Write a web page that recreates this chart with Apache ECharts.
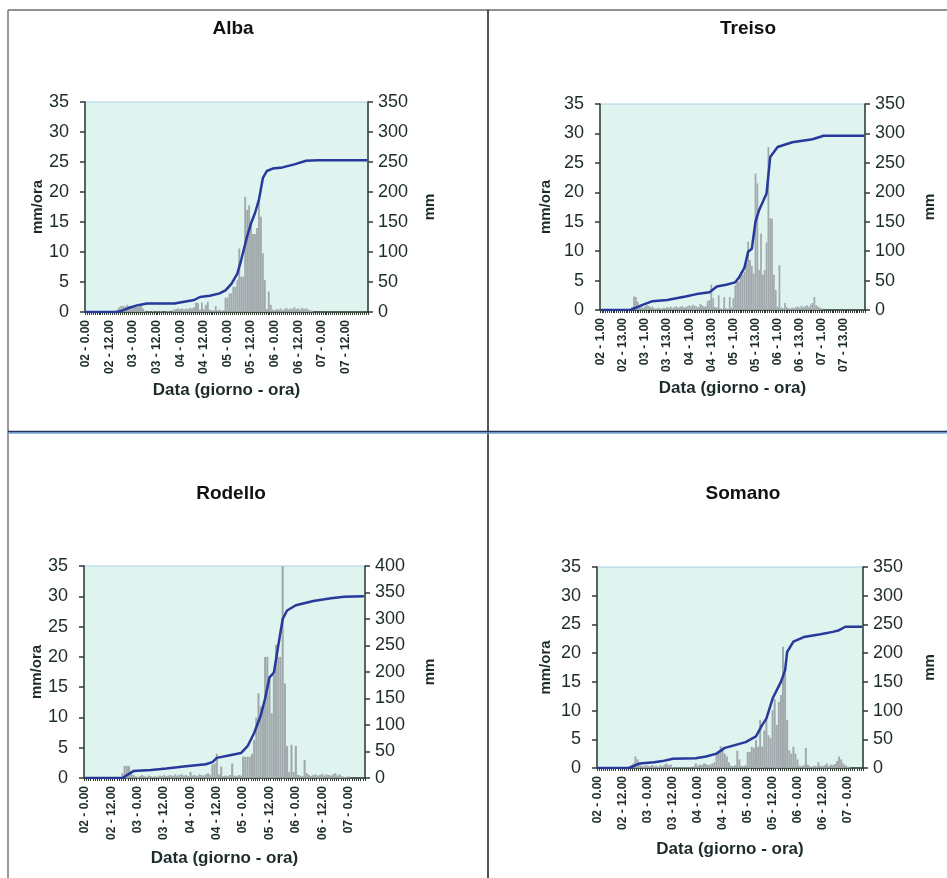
<!DOCTYPE html>
<html><head><meta charset="utf-8">
<script src="https://cdn.jsdelivr.net/npm/echarts@6/dist/echarts.min.js"></script>
<style>html,body{margin:0;padding:0;background:#fff}#c{width:947px;height:878px}</style>
</head><body><div id="c"></div><script>
// ---------- DATA ----------
const titles = ['Alba', 'Treiso', 'Rodello', 'Somano'];
const yLeftName = 'mm/ora';
const yRightName = 'mm';
const xName = 'Data (giorno - ora)';

// hourly rainfall intensity (mm/ora), one row per day
const albaRain = [
  0,0,0,0,0,0,0,0,0,0,0,0,0,0,0,0,0.5,0.8,1.0,1.0,0.9,1.2,1.0,0.8,
  1.0,1.1,0.9,0.9,1.0,0.6,0.2,0,0.1,0,0.2,0,0.1,0,0.2,0,0,0.1,0.2,0,0.3,0.4,0.5,0.6,
  0.5,0.6,0.4,0.6,0.5,0.7,0.6,0.8,1.6,1.5,0.4,1.6,0.5,1.2,1.7,0.4,0.3,0.2,1.0,0.3,0.4,0.2,0.3,2.4,
  2.4,3.1,3.1,4.2,4.2,5.3,10.6,5.9,5.9,19.2,17.0,17.8,14.8,13.0,13.0,14.0,18.4,15.9,9.8,5.3,0.5,3.4,1.2,0.4,
  0.3,0.5,0.4,0.6,0.3,0.5,0.7,0.4,0.6,0.5,0.8,0.5,0.6,0.4,0.7,0.5,0.6,0.4,0.3,0.2,0,0,0,0,
  0,0,0,0,0,0,0,0,0,0,0,0,0,0,0,0,0,0,0,0,0,0,0,0
];
const treisoRain = [
  0,0,0,0,0,0,0,0,0,0,0,0,0,0,0,0,0,0.5,2.3,2.2,1.4,0.6,0.5,0.4,
  0.6,0.8,0.7,0.5,0.6,0.3,0.2,0.4,0.3,0.2,0.4,0.3,0.5,0.4,0.6,0.3,0.5,0.6,0.4,0.5,0.7,0.4,0.5,0.6,
  0.8,0.6,0.9,0.7,0.6,0.5,1.0,0.8,0.6,0.6,1.5,1.7,4.3,2.0,0.5,0.4,2.5,0.3,0.2,2.2,0.3,0.2,2.2,0.4,
  2.0,4.2,4.8,4.8,6.5,6.0,6.5,8.0,11.6,8.5,7.5,6.2,23.2,21.5,6.8,13.0,6.0,6.8,11.5,27.7,15.6,15.5,6.0,3.4,
  0.6,7.6,0.4,0.3,1.2,0.5,0.3,0.2,0.4,0.3,0.5,0.6,0.4,0.7,0.5,0.6,0.8,0.5,0.9,1.2,2.2,0.8,0.6,0.4,
  0.3,0,0,0,0,0,0,0,0,0,0,0,0,0,0,0,0,0,0,0,0,0,0,0
];
const rodelloRain = [
  0,0,0,0,0,0,0,0,0,0,0,0,0,0,0,0,0,0.8,2.0,2.0,2.0,1.0,0.5,0.3,
  0.2,0.3,0.5,0.3,0.2,0.4,0.3,0.2,0.3,0.2,0.4,0.3,0.5,0.3,0.4,0.5,0.3,0.6,0.4,0.5,0.6,0.4,0.5,0.3,
  1.0,0.4,0.5,0.3,0.6,0.5,0.4,0.6,0.8,0.5,2.2,2.4,4.0,0.6,1.9,0.3,0.4,0.3,0.5,2.4,0.4,0.3,0.5,0.4,
  3.5,3.5,3.5,3.5,4.0,6.3,10.0,14.0,11.8,11.8,20.0,20.0,16.2,10.7,17.0,22.0,20.0,20.0,35,15.6,5.3,1.0,5.5,1.0,
  5.3,0.5,0.4,0.3,3.0,0.8,0.5,0.3,0.5,0.6,0.4,0.5,0.7,0.4,0.6,0.5,0.4,0.6,0.8,0.4,0.6,0.3,0.2,0.2,
  0.3,0,0,0,0,0,0,0
];
const somanoRain = [
  0,0,0,0,0,0,0,0,0,0,0,0,0,0,0,0.3,0.5,0.8,2.0,1.5,0.6,0.4,0.3,0.5,
  0.4,0.3,0.5,0.3,0.4,0.2,0.5,0.3,0.6,0.8,0.5,0.6,0.2,0.1,0.2,0.1,0.2,0.1,0.2,0.1,0.2,0.1,0.3,0.8,
  0.4,0.6,0.5,0.8,0.7,0.5,0.6,0.8,1.0,2.3,2.5,3.8,3.0,2.5,2.0,1.0,0.4,0.3,0.5,3.0,1.5,0.4,0.3,0.5,
  2.8,2.8,3.7,3.5,4.9,3.7,8.4,3.7,6.5,8.4,5.7,5.2,10.1,12.0,7.5,11.5,12.7,21.1,16.5,8.4,3.1,2.5,3.7,2.5,
  1.5,0.4,0.3,0.5,3.5,0.6,0.3,0.2,0.4,0.3,1.0,0.4,0.3,0.5,0.8,0.4,0.6,0.5,0.7,1.2,2.0,1.5,0.8,0.5,
  0.3,0.2,0,0,0,0,0,0
];

// cumulative rainfall (mm), points read as [hour index, mm]
const albaTotal = [[0,0],[16,0],[19,3],[22,7],[26,11],[29,13],[31,14],[45,14],[50,17],[55,20],[58,25],[63,27],[68,31],[71,36],[74,47],[77,64],[79,87],[82,126],[84,148],[86,165],[88,187],[90,223],[92,235],[95,239],[100,241],[106,246],[112,252],[118,253],[143,253]];
const treisoTotal = [[0,0],[16,0],[23,9],[28,15],[36,17],[41,20],[46,23],[52,27],[59,30],[63,40],[68,43],[73,47],[75,55],[78,72],[80,99],[82,104],[84,150],[86,170],[90,198],[92,260],[96,277],[104,285],[115,290],[121,296],[143,296]];
const rodelloTotal = [[0,0],[17,0],[22,13],[30,15],[37,18],[46,22],[55,26],[58,30],[60,38],[66,43],[71,47],[74,60],[77,85],[80,118],[82,150],[84,190],[86,199],[88,250],[90,300],[92,316],[96,326],[104,334],[112,339],[118,342],[127,343]];
const somanoTotal = [[0,0],[15,0],[20,8],[27,10],[31,12],[36,16],[47,17],[52,20],[57,25],[61,35],[65,39],[71,45],[76,55],[79,75],[81,86],[84,121],[88,150],[90,170],[91,202],[94,220],[99,228],[107,233],[113,237],[116,240],[119,246],[127,246]];

// first hour of each record and number of hourly steps
const startHours = [0, 1, 0, 0];
const hourCounts = [144, 144, 128, 128];

// tick labels shown on x axes
const albaTicks = ['02 - 0.00','02 - 12.00','03 - 0.00','03 - 12.00','04 - 0.00','04 - 12.00','05 - 0.00','05 - 12.00','06 - 0.00','06 - 12.00','07 - 0.00','07 - 12.00'];
const treisoTicks = ['02 - 1.00','02 - 13.00','03 - 1.00','03 - 13.00','04 - 1.00','04 - 13.00','05 - 1.00','05 - 13.00','06 - 1.00','06 - 13.00','07 - 1.00','07 - 13.00'];
const rodelloTicks = ['02 - 0.00','02 - 12.00','03 - 0.00','03 - 12.00','04 - 0.00','04 - 12.00','05 - 0.00','05 - 12.00','06 - 0.00','06 - 12.00','07 - 0.00'];
const somanoTicks = ['02 - 0.00','02 - 12.00','03 - 0.00','03 - 12.00','04 - 0.00','04 - 12.00','05 - 0.00','05 - 12.00','06 - 0.00','06 - 12.00','07 - 0.00'];

const leftMax = [35, 35, 35, 35];
const rightMax = [350, 350, 400, 350];

// ---------- LAYOUT ----------
const rains = [albaRain, treisoRain, rodelloRain, somanoRain];
const totals = [albaTotal, treisoTotal, rodelloTotal, somanoTotal];
const ticks = [albaTicks, treisoTicks, rodelloTicks, somanoTicks];

function hourLabels(startHour, count) {
  const out = [];
  for (let k = 0; k < count; k++) {
    const t = startHour + k;
    const d = 2 + Math.floor(t / 24);
    out.push(String(d).padStart(2, '0') + ' - ' + (t % 24) + '.00');
  }
  return out;
}

const layout = [
  {left: 85, top: 102, width: 283, height: 210, tx: 233, ty: 29, lGap: 31, rGap: 54, xGap: 70},
  {left: 600, top: 104, width: 265, height: 206, tx: 748, ty: 29, lGap: 47, rGap: 57, xGap: 70},
  {left: 84, top: 566, width: 281, height: 212, tx: 231, ty: 494, lGap: 31, rGap: 57, xGap: 72},
  {left: 597, top: 567, width: 266, height: 201, tx: 743, ty: 494, lGap: 44, rGap: 59, xGap: 73}
];

const FONT = '"Liberation Sans", Arial, sans-serif';
const AXIS = '#2f3a30';
const TXT = '#1e2b2b';

const option = {
  backgroundColor: '#ffffff',
  animation: false,
  grid: [], xAxis: [], yAxis: [], series: [],
  graphic: []
};

layout.forEach((L, i) => {
  const cats = hourLabels(startHours[i], hourCounts[i]);
  const tk = ticks[i];
  option.grid.push({
    left: L.left, top: L.top, width: L.width, height: L.height,
    show: true, backgroundColor: '#dff3ef', borderColor: '#a8d3e4', borderWidth: 1
  });
  option.xAxis.push({
    type: 'category', gridIndex: i, data: cats, boundaryGap: true,
    axisLine: {lineStyle: {color: AXIS, width: 1.5}},
    axisTick: {show: true, interval: 0, length: 3, lineStyle: {color: AXIS}},
    axisLabel: {
      interval: (idx, v) => tk.includes(v), rotate: 90, fontSize: 12, fontWeight: 'bold',
      color: TXT, fontFamily: FONT, margin: 8
    },
    name: xName, nameLocation: 'middle', nameGap: L.xGap,
    nameTextStyle: {fontSize: 17, fontWeight: 'bold', color: TXT, fontFamily: FONT}
  });
  option.yAxis.push({
    type: 'value', gridIndex: i, position: 'left', min: 0, max: leftMax[i], interval: 5,
    splitLine: {show: false},
    axisLine: {show: true, lineStyle: {color: AXIS, width: 1.5}},
    axisTick: {show: true, length: 5, lineStyle: {color: AXIS, width: 1.5}},
    axisLabel: {fontSize: 18, color: TXT, fontFamily: FONT, margin: 16},
    name: yLeftName, nameLocation: 'middle', nameGap: L.lGap, nameRotate: 90,
    nameTextStyle: {fontSize: 15, fontWeight: 'bold', color: TXT, fontFamily: FONT}
  });
  option.yAxis.push({
    type: 'value', gridIndex: i, position: 'right', min: 0, max: rightMax[i], interval: 50,
    splitLine: {show: false},
    axisLine: {show: true, lineStyle: {color: AXIS, width: 1.5}},
    axisTick: {show: true, length: 5, lineStyle: {color: AXIS, width: 1.5}},
    axisLabel: {fontSize: 18, color: TXT, fontFamily: FONT, margin: 10},
    name: yRightName, nameLocation: 'middle', nameGap: L.rGap, nameRotate: 90,
    nameTextStyle: {fontSize: 15, fontWeight: 'bold', color: TXT, fontFamily: FONT}
  });
  option.series.push({
    type: 'bar', xAxisIndex: i, yAxisIndex: 2 * i, data: rains[i],
    barCategoryGap: '5%', itemStyle: {color: '#a2a9ad'}, clip: true, z: 2
  });
  option.series.push({
    type: 'line', xAxisIndex: i, yAxisIndex: 2 * i + 1, data: totals[i],
    showSymbol: false, symbol: 'none', lineStyle: {color: '#27399b', width: 2.5}, z: 3
  });
  option.graphic.push({
    type: 'text', x: L.tx, y: L.ty,
    style: {text: titles[i], fontSize: 19, fontWeight: 'bold', fill: '#111', fontFamily: FONT,
            align: 'center', verticalAlign: 'middle'}
  });
});

// panel frame lines
option.graphic.push(
  {type: 'line', shape: {x1: 8, y1: 10, x2: 947, y2: 10}, style: {stroke: '#6b6b6b', lineWidth: 1.5}},
  {type: 'line', shape: {x1: 8, y1: 10, x2: 8, y2: 878}, style: {stroke: '#777', lineWidth: 1.5}},
  {type: 'line', shape: {x1: 488, y1: 10, x2: 488, y2: 878}, style: {stroke: '#1a1a1a', lineWidth: 1.5}},
  {type: 'line', shape: {x1: 8, y1: 433, x2: 947, y2: 433}, style: {stroke: '#6fa0d8', lineWidth: 1.5}},
  {type: 'line', shape: {x1: 8, y1: 431.5, x2: 947, y2: 431.5}, style: {stroke: '#22325a', lineWidth: 1.5}}
);

const chart = echarts.init(document.getElementById('c'), null, {renderer: 'canvas'});
chart.setOption(option);
</script></body></html>
